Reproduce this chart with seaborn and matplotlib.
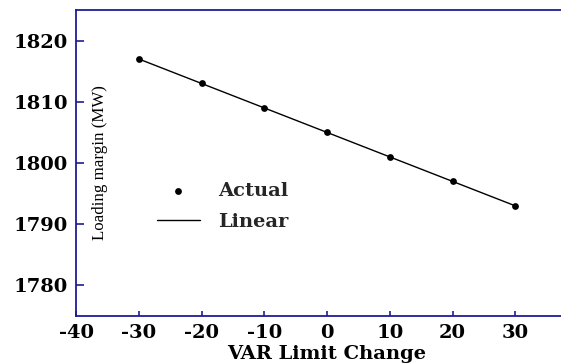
import matplotlib
matplotlib.use("Agg")
import matplotlib.pyplot as plt
import seaborn as sns
import pandas as pd

# Data
var_limit_change = [-30, -20, -10, 0, 10, 20, 30]
actual_margin = [1817, 1813, 1809, 1805, 1801, 1797, 1793]
linear_margin = [1817, 1813, 1809, 1805, 1801, 1797, 1793]
x_ticks = [-40, -30, -20, -10, 0, 10, 20, 30]
y_ticks = [1780, 1790, 1800, 1810, 1820]

df = pd.DataFrame({"x": var_limit_change, "actual": actual_margin, "linear": linear_margin})

sns.set_theme(style="white")
plt.rcParams["font.family"] = ["DejaVu Serif"]
plt.rcParams["axes.unicode_minus"] = False

spine_color = "#1c1c96"

fig = plt.figure(figsize=(5.61, 3.63), dpi=100)
ax = fig.add_axes([76 / 561, 1 - 316 / 363, 502 / 561, 306 / 363])

sns.lineplot(data=df, x="x", y="linear", ax=ax, color="black", linewidth=1.0, label="Linear")
sns.scatterplot(data=df, x="x", y="actual", ax=ax, color="black", s=24, edgecolor="black",
                linewidth=0, label="Actual", zorder=3)

ax.set_xlim(-40, 40)
ax.set_ylim(1775, 1825)
ax.set_xticks(x_ticks)
ax.set_yticks(y_ticks)

for side in ["left", "bottom", "top"]:
    ax.spines[side].set_visible(True)
    ax.spines[side].set_color(spine_color)
    ax.spines[side].set_linewidth(1.3)
ax.spines["right"].set_visible(False)

ax.tick_params(axis="y", direction="in", length=6, width=1.2, color=spine_color,
               labelsize=14, pad=6, left=True)
ax.tick_params(axis="x", direction="in", length=3.5, width=1.2, color=spine_color,
               labelsize=14, pad=6, bottom=True)
for lbl in ax.get_xticklabels() + ax.get_yticklabels():
    lbl.set_fontweight("bold")
    lbl.set_color("black")

ax.set_xlabel("VAR Limit Change", fontsize=14, fontweight="bold", color="black", labelpad=2)
ax.set_ylabel("Loading margin (MW)", fontsize=12.2, family=["Liberation Serif"],
              color="black", va="center")
ax.yaxis.set_label_coords(0.048, 0.503)

handles, labels = ax.get_legend_handles_labels()
order = [labels.index("Actual"), labels.index("Linear")]
leg = ax.legend([handles[i] for i in order], [labels[i] for i in order],
                loc="center left", bbox_to_anchor=(0.161, 0.358), borderaxespad=0,
                borderpad=0, frameon=False, handlelength=2.2, handletextpad=0.95,
                labelspacing=0.7, prop={"family": "DejaVu Serif", "weight": "bold", "size": 14})

fig.savefig("out.png", dpi=100)
